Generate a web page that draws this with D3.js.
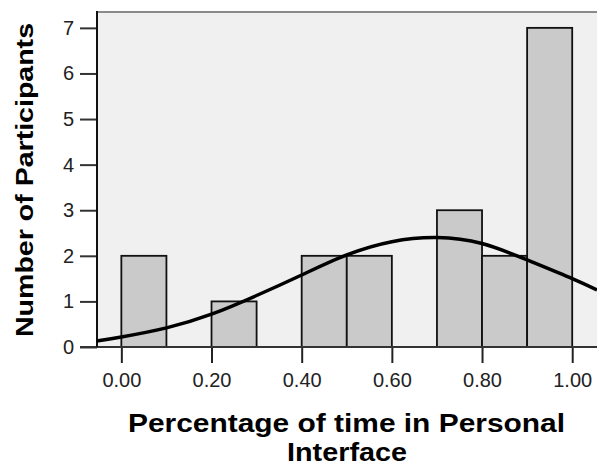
<!DOCTYPE html>
<html>
<head>
<meta charset="utf-8">
<script src="https://cdn.jsdelivr.net/npm/d3@7"></script>
<style>
  html, body { margin: 0; padding: 0; background: #fff; }
  svg { display: block; font-family: "Liberation Sans", Arial, sans-serif; }
</style>
</head>
<body>
<svg width="597" height="470"></svg>
<script>
// histogram bins (lower edge) and counts
const binStarts = [0.0, 0.1, 0.2, 0.3, 0.4, 0.5, 0.6, 0.7, 0.8, 0.9];
const binWidth = 0.1;
const counts = [2, 0, 1, 0, 2, 2, 0, 3, 2, 7];

// normal curve overlay
const curveX = [-0.055, 0.0, 0.1, 0.2, 0.3, 0.4, 0.5, 0.6, 0.7, 0.8, 0.9, 1.0, 1.055];
const curveY = [0.13, 0.22, 0.42, 0.72, 1.13, 1.58, 2.02, 2.31, 2.40, 2.27, 1.91, 1.5, 1.25];

const xTicks = [0, 0.2, 0.4, 0.6, 0.8, 1.0];
const yTicks = [0, 1, 2, 3, 4, 5, 6, 7];

const svg = d3.select('svg');

const x = d3.scaleLinear()
  .domain([-0.054, 1.055])
  .range([97, 597]);
const y = d3.scaleLinear()
  .domain([0, 7.37])
  .range([347, 11]);

// plot background
svg.append('rect')
  .attr('x', x.range()[0])
  .attr('y', y.range()[1])
  .attr('width', x.range()[1] - x.range()[0])
  .attr('height', y.range()[0] - y.range()[1])
  .attr('fill', '#f0f0f0');

// top border
svg.append('line')
  .attr('x1', x.range()[0]).attr('x2', x.range()[1])
  .attr('y1', y.range()[1] + 1).attr('y2', y.range()[1] + 1)
  .attr('stroke', '#8a8a8a')
  .attr('stroke-width', 2);

// bars
const bins = binStarts.map((d, i) => ({start: d, end: d + binWidth, count: counts[i]}));
svg.selectAll('.bar')
  .data(bins)
  .enter()
  .append('rect')
  .classed('bar', true)
  .attr('x', d => x(d.start))
  .attr('width', d => x(d.end) - x(d.start))
  .attr('y', d => y(d.count))
  .attr('height', d => y(0) - y(d.count))
  .attr('fill', '#cacaca')
  .attr('stroke', '#111')
  .attr('stroke-width', 1.8);

// x axis
const xAxis = svg.append('g')
  .attr('transform', `translate(0,${y(0)})`)
  .call(d3.axisBottom(x)
    .tickValues(xTicks)
    .tickFormat(d3.format('.2f'))
    .tickSize(16)
    .tickSizeOuter(0)
    .tickPadding(10));
xAxis.select('.domain').remove();
xAxis.selectAll('.tick line').attr('stroke', '#222').attr('stroke-width', 2);
xAxis.selectAll('.tick text')
  .attr('font-size', 20)
  .attr('fill', '#222')
  .attr('font-family', '"Liberation Sans", Arial, sans-serif');

// baseline
svg.append('line')
  .attr('x1', 80).attr('x2', x.range()[1])
  .attr('y1', y(0)).attr('y2', y(0))
  .attr('stroke', '#333')
  .attr('stroke-width', 2);

// y axis
const yAxis = svg.append('g')
  .attr('transform', `translate(${x.range()[0]},0)`)
  .call(d3.axisLeft(y)
    .tickValues(yTicks)
    .tickFormat(d3.format('d'))
    .tickSize(17)
    .tickSizeOuter(0)
    .tickPadding(6));
yAxis.select('.domain').remove();
yAxis.selectAll('.tick line').attr('stroke', '#333').attr('stroke-width', 2);
yAxis.selectAll('.tick text')
  .attr('font-size', 20)
  .attr('fill', '#222')
  .attr('font-family', '"Liberation Sans", Arial, sans-serif');

svg.append('line')
  .attr('x1', x.range()[0]).attr('x2', x.range()[0])
  .attr('y1', y.range()[1]).attr('y2', y(0))
  .attr('stroke', '#111')
  .attr('stroke-width', 2);

// normal curve
const line = d3.line()
  .x(d => x(d[0]))
  .y(d => y(d[1]))
  .curve(d3.curveNatural);
svg.append('path')
  .datum(curveX.map((d, i) => [d, curveY[i]]))
  .attr('d', line)
  .attr('fill', 'none')
  .attr('stroke', '#000')
  .attr('stroke-width', 3.5);

// axis titles (the source glyphs are stretched wide)
svg.append('text')
  .attr('x', 128)
  .attr('y', 432)
  .attr('font-size', 25)
  .attr('font-weight', 'bold')
  .attr('textLength', 437)
  .attr('lengthAdjust', 'spacingAndGlyphs')
  .text('Percentage of time in Personal');
svg.append('text')
  .attr('x', 287)
  .attr('y', 461)
  .attr('font-size', 25)
  .attr('font-weight', 'bold')
  .attr('textLength', 120)
  .attr('lengthAdjust', 'spacingAndGlyphs')
  .text('Interface');

svg.append('text')
  .attr('transform', 'translate(33,337) rotate(-90)')
  .attr('font-size', 24)
  .attr('font-weight', 'bold')
  .attr('textLength', 314)
  .attr('lengthAdjust', 'spacingAndGlyphs')
  .text('Number of Participants');
</script>
</body>
</html>
